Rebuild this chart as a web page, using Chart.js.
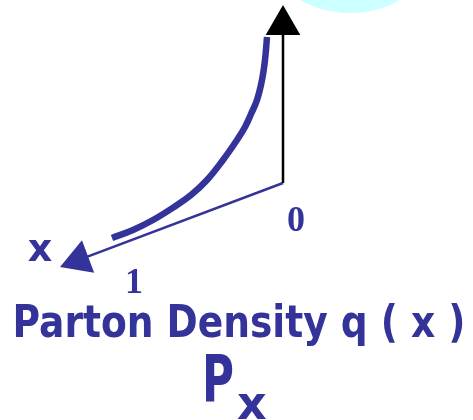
<!DOCTYPE html>
<html>
<head>
<meta charset="utf-8">
<script src="https://cdn.jsdelivr.net/npm/chart.js@4/dist/chart.umd.min.js"></script>
<style>
  html, body { margin: 0; padding: 0; background: #fff; }
  canvas { display: block; }
</style>
</head>
<body>
<canvas id="partonChart" width="473" height="420"></canvas>
<script>
// q(x) curve, in sketch units (x right, y down)
const densityX = [112, 133, 153, 174, 191, 207, 223, 237, 245, 251, 257, 262, 265, 267];
const densityY = [238, 230, 220, 207, 195, 180, 160, 140, 127, 114, 100, 80, 60, 37];

// axes: common origin, tip of the q axis, tip of the x axis
const axisOrigin = [283, 183];
const qAxisTip = [283, 5];
const xAxisTip = [60, 267];

// background halo
const haloCenter = [350, -90];

const BLUE = "#333399";
const ARROW = 20; // triangle radius

function toPoints(xs, ys) {
  return xs.map((x, i) => ({ x: x, y: ys[i] }));
}

// arrowhead centre and rotation so the tip sits on the axis end
function arrowHead(from, tip) {
  const dx = tip[0] - from[0];
  const dy = tip[1] - from[1];
  const len = Math.hypot(dx, dy);
  const ux = dx / len, uy = dy / len;
  return {
    point: { x: tip[0] - ux * ARROW, y: tip[1] - uy * ARROW },
    base: { x: tip[0] - ux * ARROW * 1.4, y: tip[1] - uy * ARROW * 1.4 },
    rotation: Math.atan2(ux, -uy) * 180 / Math.PI,
  };
}

const qHead = arrowHead(axisOrigin, qAxisTip);
const xHead = arrowHead(axisOrigin, xAxisTip);
const origin = { x: axisOrigin[0], y: axisOrigin[1] };

// text drawn on top of the plot
const labels = [
  { text: "0", x: 296, y: 231, font: "bold 36px 'Liberation Serif'", align: "center" },
  { text: "1", x: 134, y: 293, font: "bold 36px 'Liberation Serif'", align: "center" },
  { text: "x", x: 40, y: 261, font: "bold 38px 'DejaVu Sans'", align: "center" },
  { text: "Parton Density q ( x )", x: 239, y: 337, font: "bold 44px 'DejaVu Sans'", align: "center", maxWidth: 453 },
  { text: "P", x: 202, y: 402, font: "bold 66px 'DejaVu Sans'", align: "left", maxWidth: 32 },
  { text: "x", x: 237, y: 419, font: "bold 46px 'DejaVu Sans'", align: "left", maxWidth: 30 },
];

const labelPlugin = {
  id: "labels",
  afterDatasetsDraw(chart) {
    const ctx = chart.ctx;
    const sx = chart.scales.x, sy = chart.scales.y;
    ctx.save();
    ctx.fillStyle = BLUE;
    ctx.textBaseline = "alphabetic";
    labels.forEach((l) => {
      ctx.font = l.font;
      ctx.textAlign = l.align;
      const px = sx.getPixelForValue(l.x);
      const py = sy.getPixelForValue(l.y);
      if (l.maxWidth) ctx.fillText(l.text, px, py, l.maxWidth);
      else ctx.fillText(l.text, px, py);
    });
    ctx.restore();
  },
};

new Chart(document.getElementById("partonChart"), {
  type: "scatter",
  data: {
    datasets: [
      {
        label: "q(x)",
        data: toPoints(densityX, densityY),
        showLine: true,
        borderColor: BLUE,
        borderWidth: 6.5,
        borderCapStyle: "butt",
        tension: 0.4,
        pointRadius: 0,
      },
      {
        label: "q axis head",
        data: [qHead.point],
        pointStyle: "triangle",
        pointRadius: ARROW,
        rotation: qHead.rotation,
        backgroundColor: "#000",
        borderWidth: 0,
      },
      {
        label: "x axis head",
        data: [xHead.point],
        pointStyle: "triangle",
        pointRadius: ARROW,
        rotation: xHead.rotation,
        backgroundColor: BLUE,
        borderWidth: 0,
      },
      {
        label: "q axis",
        data: [origin, qHead.base],
        showLine: true,
        borderColor: "#000",
        borderWidth: 2.5,
        pointRadius: 0,
      },
      {
        label: "x axis",
        data: [origin, xHead.base],
        showLine: true,
        borderColor: BLUE,
        borderWidth: 2.5,
        pointRadius: 0,
      },
      {
        label: "halo",
        data: [{ x: haloCenter[0], y: haloCenter[1] }],
        pointRadius: 103,
        backgroundColor: "#ccffff",
        borderWidth: 0,
      },
    ],
  },
  options: {
    responsive: false,
    animation: false,
    events: [],
    layout: { padding: 0, autoPadding: false },
    plugins: {
      legend: { display: false },
      tooltip: { enabled: false },
    },
    scales: {
      x: { type: "linear", min: 0, max: 473, display: false },
      y: { type: "linear", min: 0, max: 420, reverse: true, display: false },
    },
  },
  plugins: [labelPlugin],
});
</script>
</body>
</html>
